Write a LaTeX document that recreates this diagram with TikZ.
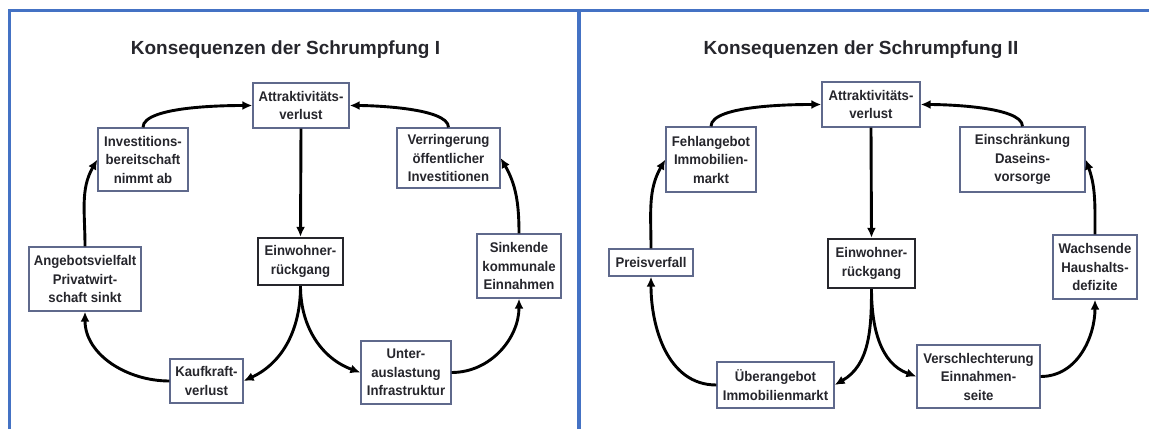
\documentclass[tikz,border=0pt]{standalone}
\usepackage{fontspec}
\setmainfont{Liberation Sans}
\newfontfamily\boxfont{Liberation Sans}[FakeStretch=0.94]
\usetikzlibrary{arrows.meta}
\definecolor{rahmenblau}{RGB}{68,114,196}
\definecolor{kastenlinie}{RGB}{95,105,140}
\definecolor{schrift}{RGB}{38,38,44}

\begin{document}
\begin{tikzpicture}[x=1pt, y=1pt,
		kasten/.style={draw=kastenlinie, line width=1.3pt, fill=white, align=center, text=schrift, font=\boxfont\bfseries\fontsize{14}{18.5}\selectfont, inner sep=0pt},
		kern/.style={kasten, draw=schrift, line width=2.3pt},
		titel/.style={text=schrift, font=\bfseries\fontsize{19}{22}\selectfont},
		pfeil/.style={-{Latex[length=10pt,width=9pt]}, line width=2.9pt}]
		\useasboundingbox (0,0) rectangle (1149,429);
		\draw[rahmenblau, line width=2.8pt] (9.5,0) -- (9.5,418.5) -- (1149,418.5);
		\draw[rahmenblau, line width=4pt] (579,0) -- (579,418.5);

		\node[titel] (titel1) at (285.5,379.5) {Konsequenzen der Schrumpfung I};
		\node[kasten, minimum width=96pt, minimum height=45pt] (attr1) at (301,323.5) {Attraktivitäts-\\verlust};
		\node[kasten, minimum width=90pt, minimum height=63pt] (inv1) at (143,269.5) {Investitions-\\bereitschaft\\nimmt ab};
		\node[kasten, minimum width=103pt, minimum height=60pt] (ver1) at (448.5,271) {Verringerung\\öffentlicher\\Investitionen};
		\node[kasten, minimum width=112pt, minimum height=64pt] (ang1) at (85,150) {Angebotsvielfalt\\Privatwirt-\\schaft sinkt};
		\node[kern, minimum width=85pt, minimum height=47pt] (ein1) at (300.5,167.5) {Einwohner-\\rückgang};
		\node[kasten, minimum width=84pt, minimum height=64pt] (sin1) at (519,163) {Sinkende\\kommunale\\Einnahmen};
		\node[kasten, minimum width=73pt, minimum height=44pt] (kauf1) at (206.5,48) {Kaufkraft-\\verlust};
		\node[kasten, minimum width=90pt, minimum height=63pt] (unt1) at (406,56.5) {Unter-\\auslastung\\Infrastruktur};

		\draw[pfeil] (attr1.south) -- (ein1.north);
		\draw[pfeil] (inv1.north) to[out=90, in=180, looseness=0.5] (attr1.west);
		\draw[pfeil] (ver1.north) to[out=90, in=0, looseness=0.5] (attr1.east);
		\draw[pfeil] (ein1.south) to[out=-90, in=25] (kauf1.east);
		\draw[pfeil] (ein1.south) to[out=-90, in=160] (unt1.west);
		\draw[pfeil] (kauf1.west) to[out=180, in=-90] (ang1.south);
		\draw[pfeil] (unt1.east) to[out=0, in=-90] (sin1.south);
		\draw[pfeil] (ang1.north) to[out=90, in=240] (inv1.west);
		\draw[pfeil] (sin1.north) to[out=90, in=-60] (ver1.east);

		\node[titel] (titel2) at (861,379.5) {Konsequenzen der Schrumpfung II};
		\node[kasten, minimum width=98pt, minimum height=45pt] (attr2) at (871,324.5) {Attraktivitäts-\\verlust};
		\node[kasten, minimum width=90pt, minimum height=65pt] (fehl2) at (711,269.5) {Fehlangebot\\Immobilien-\\markt};
		\node[kasten, minimum width=125pt, minimum height=65pt] (eins2) at (1022.5,269.5) {Einschränkung\\Daseins-\\vorsorge};
		\node[kasten, minimum width=84pt, minimum height=27pt] (preis2) at (651,166.5) {Preisverfall};
		\node[kern, minimum width=87pt, minimum height=49pt] (ein2) at (871.5,165.5) {Einwohner-\\rückgang};
		\node[kasten, minimum width=84pt, minimum height=64pt] (wachs2) at (1095,162) {Wachsende\\Haushalts-\\defizite};
		\node[kasten, minimum width=117pt, minimum height=46pt] (ueber2) at (775.5,44) {Überangebot\\Immobilienmarkt};
		\node[kasten, minimum width=123pt, minimum height=63pt] (versch2) at (978.5,52.5) {Verschlechterung\\Einnahmen-\\seite};

		\draw[pfeil] (attr2.south) -- (ein2.north);
		\draw[pfeil] (fehl2.north) to[out=90, in=180, looseness=0.5] (attr2.west);
		\draw[pfeil] (eins2.north) to[out=90, in=0, looseness=0.5] (attr2.east);
		\draw[pfeil] (ein2.south) to[out=-90, in=30] (ueber2.east);
		\draw[pfeil] (ein2.south) to[out=-90, in=160] (versch2.west);
		\draw[pfeil] (ueber2.west) to[out=180, in=-90] (preis2.south);
		\draw[pfeil] (versch2.east) to[out=0, in=-90] (wachs2.south);
		\draw[pfeil] (preis2.north) to[out=90, in=240] (fehl2.west);
		\draw[pfeil] (wachs2.north) to[out=90, in=-70] (eins2.east);
	\end{tikzpicture}
\end{document}
